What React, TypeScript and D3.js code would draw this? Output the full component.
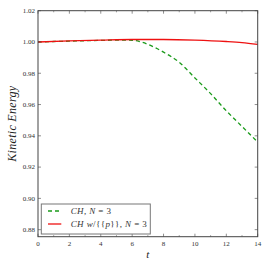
import React from "react";
import * as d3 from "d3";

const tGreen = [0, 1, 2, 3, 4, 5, 6, 6.5, 7, 7.5, 8, 9, 10, 11, 12, 13, 14];
const keGreen = [1.0, 1.0003, 1.0005, 1.0008, 1.001, 1.0012, 1.0011, 1.0002, 0.9985, 0.9962, 0.9935, 0.987, 0.977, 0.967, 0.956, 0.946, 0.936];
const tRed = [0, 2, 4, 6, 8, 10, 12, 13, 14];
const keRed = [1.0, 1.0007, 1.0012, 1.0016, 1.0016, 1.0012, 1.0003, 0.9996, 0.9985];
const xTicks = [0, 2, 4, 6, 8, 10, 12, 14];
const yTicks = [0.88, 0.9, 0.92, 0.94, 0.96, 0.98, 1.0, 1.02];

const W = 269;
const H = 269;
const margin = { top: 10.7, right: 11.3, bottom: 32.3, left: 38 };

export default function App() {
  const iw = W - margin.left - margin.right;
  const ih = H - margin.top - margin.bottom;
  const x = d3.scaleLinear().domain([0, 14]).range([0, iw]);
  const y = d3.scaleLinear().domain([0.8755, 1.02]).range([ih, 0]);
  const line = d3
    .line<[number, number]>()
    .x((d) => x(d[0]))
    .y((d) => y(d[1]))
    .curve(d3.curveMonotoneX);
  const green = tGreen.map((t, i) => [t, keGreen[i]] as [number, number]);
  const red = tRed.map((t, i) => [t, keRed[i]] as [number, number]);
  const minorX = d3.range(1, 14, 2);
  const axisColor = "#444";
  const font = "'Liberation Serif', serif";

  return (
    <svg width={W} height={H} style={{ position: "absolute", left: 0, top: 0 }}>
      <rect width={W} height={H} fill="#fff" />
      <g transform={`translate(${margin.left},${margin.top})`}>
        <path d={line(green) ?? ""} fill="none" stroke="#1a9a1a" strokeWidth={1.3} strokeDasharray="4,3" />
        <path d={line(red) ?? ""} fill="none" stroke="#ee1111" strokeWidth={1.3} />
        {xTicks.map((t) => (
          <g key={"x" + t}>
            <line x1={x(t)} x2={x(t)} y1={ih} y2={ih - 3} stroke={axisColor} strokeWidth={0.6} />
            <line x1={x(t)} x2={x(t)} y1={0} y2={3} stroke={axisColor} strokeWidth={0.6} />
            <text x={x(t)} y={ih + 9} textAnchor="middle" fontFamily={font} fontSize={7} fill="#333">
              {t}
            </text>
          </g>
        ))}
        {minorX.map((t) => (
          <g key={"m" + t}>
            <line x1={x(t)} x2={x(t)} y1={ih} y2={ih - 1.6} stroke={axisColor} strokeWidth={0.5} />
            <line x1={x(t)} x2={x(t)} y1={0} y2={1.6} stroke={axisColor} strokeWidth={0.5} />
          </g>
        ))}
        {yTicks.map((v) => (
          <g key={"y" + v}>
            <line x1={0} x2={3} y1={y(v)} y2={y(v)} stroke={axisColor} strokeWidth={0.6} />
            <line x1={iw} x2={iw - 3} y1={y(v)} y2={y(v)} stroke={axisColor} strokeWidth={0.6} />
            <text x={-3} y={y(v) + 2.4} textAnchor="end" fontFamily={font} fontSize={7} fill="#333">
              {v.toFixed(2)}
            </text>
          </g>
        ))}
        <rect x={0} y={0} width={iw} height={ih} fill="none" stroke={axisColor} strokeWidth={1} />
        <g transform={`translate(3.3,${ih - 32.7})`}>
          <rect x={0} y={0} width={109} height={30} fill="#fff" stroke="#777" strokeWidth={1} />
          <line x1={6.7} x2={20} y1={7} y2={7} stroke="#1a9a1a" strokeWidth={1.3} strokeDasharray="4,3" />
          <line x1={6.7} x2={20} y1={20} y2={20} stroke="#ee1111" strokeWidth={1.3} />
          <text x={29.4} y={9.8} fontFamily={font} fontSize={9} letterSpacing={0.4} fill="#333">
            <tspan fontStyle="italic">CH</tspan>, <tspan fontStyle="italic">N</tspan> = 3
          </text>
          <text x={29.4} y={23} fontFamily={font} fontSize={9} letterSpacing={0.4} fill="#333">
            <tspan fontStyle="italic">CH w</tspan>/{"{{"}
            <tspan fontStyle="italic">p</tspan>
            {"}}"}, <tspan fontStyle="italic">N</tspan> = 3
          </text>
        </g>
      </g>
      <text
        transform={`translate(16,${margin.top + ih / 2}) rotate(-90)`}
        textAnchor="middle"
        fontFamily={font}
        fontStyle="italic"
        fontSize={12}
        letterSpacing={0.3}
        fill="#222"
      >
        Kinetic Energy
      </text>
      <text x={margin.left + iw / 2} y={258} textAnchor="middle" fontFamily={font} fontStyle="italic" fontSize={11} fill="#222">
        t
      </text>
    </svg>
  );
}
